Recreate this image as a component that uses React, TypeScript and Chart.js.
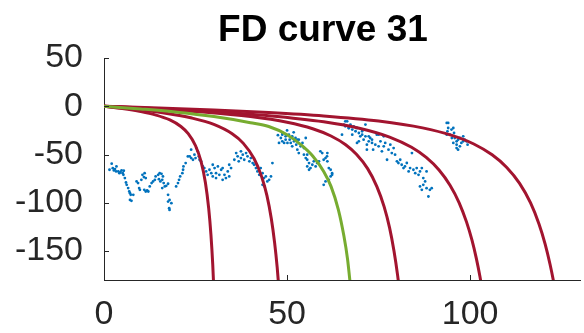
import React, { useEffect, useRef } from 'react';
import { Chart, registerables } from 'chart.js';

Chart.register(...registerables);

const titleText = 'FD curve 31';
const xTicks = [0, 50, 100];
const yTicks = [-150, -100, -50, 0, 50];
const xLimits = [0, 130];
const yLimits = [-180, 50];

// fitted curves (red)
const curve1X = [0, 5, 10, 14, 18, 21, 23, 25, 26.5, 27.7, 28.6, 29.2, 29.7, 30.2];
const curve1Y = [0, -2.4, -5.5, -8.9, -14.2, -21, -28.4, -40.9, -57.2, -79.2, -106, -132.8, -164, -208];
const curve2X = [0, 8, 16, 24, 30, 35, 38, 41, 43, 44.5, 45.7, 46.6, 47.3, 48];
const curve2Y = [0, -3, -6.7, -12.2, -18.8, -28.5, -38.2, -54.4, -72.4, -92.6, -116.5, -141.5, -167, -200];
const curve4X = [0, 13, 27, 40, 50, 57, 62, 66, 69, 72, 74.5, 76.5, 78, 79.2, 80.2, 81];
const curve4Y = [0, -2.6, -6, -10.7, -16.6, -23.3, -30.8, -39.9, -50, -64.6, -83, -104, -126, -150, -175.5, -201];
const curve5X = [0, 15, 30, 45, 60, 70, 78, 84, 88, 91.5, 94.5, 97, 99, 100.5, 101.7, 102.7, 103.6];
const curve5Y = [0, -2.6, -5.7, -9.8, -16.1, -23, -31.9, -42.5, -53, -66, -81.8, -100, -119.8, -138.8, -157.9, -177, -197.5];
const curve6X = [0, 15, 30, 45, 60, 75, 87, 95, 101, 106, 110, 113.5, 116.5, 118.8, 120.5, 121.8, 122.8, 123.6];
const curve6Y = [0, -1.8, -3.9, -6.5, -10, -15.3, -22.4, -30.2, -39.1, -50.3, -63.4, -79.9, -100.2, -121.9, -143, -163.4, -182, -200];
// highlighted curve (green)
const curveGreenX = [0, 10, 20, 30, 40, 45, 50, 54, 57, 60, 62, 64, 65.5, 66.5, 67.3, 68];
const curveGreenY = [0, -2.8, -6.1, -10.7, -17, -21, -29.5, -40.5, -51.5, -67.5, -83, -107, -134, -158, -186, -212];

// measured points (blue), four segments
const dotsSeg1: [number, number][] = [
  [1.5, -65.8], [2.1, -59.5], [2.4, -64.1], [2.7, -66.5], [3.0, -65.1], [3.4, -62.3], [3.3, -67.5], [3.9, -67.5],
  [4.2, -69.3], [4.5, -68.2], [4.8, -66.5], [5.1, -69.3], [5.4, -66.8], [5.3, -71], [5.7, -74.4], [6.0, -79],
  [6.2, -81.4], [6.6, -84.8], [6.9, -88.3], [7.1, -90], [7.3, -91.8], [7.1, -97], [7.5, -98], [8.0, -91.8],
  [8.9, -77.9], [9.3, -79.6], [9.6, -84.8], [9.8, -86.6], [10.2, -76.2], [10.5, -71], [10.9, -73.4], [11.1, -69.3],
  [11.4, -74.4], [11.0, -86.6], [11.4, -88.3], [11.8, -87.3], [12.1, -88.3], [12.5, -83.1], [13.0, -79.6], [13.4, -77.9],
  [13.9, -76.2], [14.1, -72.7], [14.8, -71], [15.2, -69.3], [15.7, -70], [15.0, -75.5], [15.4, -77.9], [15.9, -76.2],
  [16.1, -72.7], [16.3, -79.6], [16.6, -83.1], [15.9, -84.8], [17.0, -82.4], [17.5, -80.3], [17.5, -91.8], [17.9, -97],
  [17.5, -98.7], [18.4, -100.4], [17.9, -107.4], [17.8, -105.6], [19.7, -83.1], [20.2, -79.6], [20.5, -76.2], [20.8, -72.7],
  [21.4, -69.3], [21.6, -65.8], [21.7, -62.3], [22.3, -58.9], [22.9, -52], [23.4, -51.9], [23.8, -53.7], [23.8, -45],
  [24.3, -55.4], [24.7, -50.2], [25.0, -53.7], [25.2, -43.3], [25.6, -46.7], [25.9, -51.9], [26.1, -55.4], [26.5, -57.1],
  [27.0, -62.3], [27.4, -64], [27.9, -67.5], [28.3, -71], [28.8, -65.8], [29.3, -69.3], [29.7, -60.6], [30.2, -64],
  [30.6, -69.3], [29.7, -72.7], [30.6, -74.4], [31.1, -62.3], [31.5, -71], [32.0, -65.8], [32.4, -76.2], [32.4, -64],
  [32.9, -71], [33.3, -74.4], [33.8, -67.5], [34.2, -72.7], [34.2, -60.6], [34.7, -64], [35.6, -55.4], [36.1, -48.5],
  [36.5, -51.9], [36.8, -57.1], [37.4, -53.7], [37.4, -46.7], [37.9, -50.2], [38.3, -55.4], [38.8, -48.5], [39.2, -51.9],
  [39.7, -57.1], [40.1, -53.7], [40.6, -58.9], [41.0, -60.6], [41.5, -64], [41.9, -67.5], [42.4, -71], [42.8, -64],
  [43.3, -69.3], [43.7, -74.4], [44.2, -72.7], [43.3, -81.4], [43.8, -83.1], [44.6, -77.9], [45.1, -76.2], [45.6, -72.7],
  [46.0, -58.9],
];
const dotsSeg2: [number, number][] = [
  [47.5, -30], [47.8, -38], [48.3, -32.9], [48.7, -29.4], [48.7, -36.3], [48.7, -27.7], [49.2, -38], [49.6, -31.1],
  [49.6, -34.6], [50.0, -25], [50.1, -38], [50.5, -29.4], [50.7, -34.6], [51.0, -38], [51.4, -31.1], [51.4, -41.5],
  [51.8, -27], [51.9, -36.3], [52.3, -32.9], [52.5, -39.8], [52.8, -45], [52.8, -34.6], [53.2, -34.6], [53.2, -48.5],
  [53.7, -41.5], [54.2, -38], [54.6, -43.3], [55.1, -32.9], [54.6, -50.2], [55.1, -53.7], [55.5, -55.4], [55.5, -50.2],
  [55.5, -62.3], [56.0, -58.9], [56.0, -65.8], [56.4, -64], [56.9, -60.6], [57.3, -57.1], [57.8, -62.3], [58.2, -58.9],
  [58.7, -57.1], [59.1, -46.7], [59.6, -48.5], [60.0, -55.4], [60.5, -53.7], [60.9, -51.9], [61.0, -48.5], [61.0, -57.1],
  [61.4, -64], [61.9, -65.8], [62.3, -69.3], [62.3, -71], [61.9, -72.7], [61.4, -76.2], [60.5, -77.9], [60.0, -81.4],
];
const dotsSeg3: [number, number][] = [
  [65.0, -29.4], [65.5, -19], [65.9, -20.7], [65.9, -15.6], [66.4, -15.6], [66.8, -22.5], [66.9, -22.5], [67.3, -19],
  [67.8, -24.2], [67.8, -29.4], [68.2, -20.8], [68.7, -25.9], [69.1, -22.5], [69.1, -38], [69.6, -27.7], [69.6, -36.3],
  [70.0, -31.1], [70.5, -25.9], [70.5, -29.4], [70.9, -34.6], [71.4, -19], [71.4, -31.1], [71.8, -39.8], [71.8, -45],
  [72.3, -36.3], [72.3, -31.1], [72.7, -32.9], [73.2, -38], [73.2, -34.6], [73.5, -45], [74.1, -39.8], [74.5, -29.4],
  [75.0, -41.5], [75.0, -29.4], [75.5, -36.3], [75.9, -46.7], [76.4, -31.1], [76.4, -41.5], [76.8, -38], [77.3, -55.4],
  [77.7, -45], [78.2, -39.8], [78.6, -48.5], [79.1, -43.3], [79.5, -50.2], [80.0, -57.1], [80.4, -58.8], [80.9, -55.4],
  [81.3, -60.6], [81.8, -64], [82.2, -62.3], [82.7, -58.8], [83.2, -67.5], [83.6, -64], [84.1, -48.5], [84.5, -65.8],
  [85.0, -69.3], [85.4, -64], [85.9, -71], [86.3, -67.5], [86.8, -64], [87.2, -74.4], [87.7, -77.9], [88.1, -67.5],
  [86.3, -83.1], [86.8, -86.6], [87.2, -81.4], [88.1, -84.9], [88.6, -93.5], [89.0, -86.6], [89.5, -84.9],
];
const dotsSeg4: [number, number][] = [
  [93.6, -17.3], [94.0, -17.3], [93.8, -26], [94.0, -22.5], [93.6, -29.4], [94.5, -29.4], [94.9, -24.2], [95.4, -22.5],
  [95.6, -27.7], [95.0, -32.9], [95.8, -32.9], [96.3, -36.3], [96.7, -34.6], [96.3, -39.8], [96.3, -43.3], [97.2, -41.5],
  [97.2, -32.9], [97.6, -38], [98.1, -36.3], [98.1, -31.1], [98.5, -34.6], [99.0, -36.3], [99.3, -39.8], [96.7, -45],
  [95.4, -38],
];

const RED = '#A2142F';
const GREEN = '#77AC30';
const BLUE = '#0072BD';
const AXIS = '#262626';
const FONT = '"Liberation Sans", Arial, Helvetica, sans-serif';

const toPts = (xs: number[], ys: number[]) => xs.map((x, i) => ({ x, y: ys[i] }));
const pairPts = (arr: [number, number][]) => arr.map(([x, y]) => ({ x, y }));

const curveDataset = (xs: number[], ys: number[], color: string, order: number) => ({
  type: 'scatter' as const,
  data: toPts(xs, ys),
  showLine: true,
  borderColor: color,
  backgroundColor: color,
  borderWidth: 3,
  pointRadius: 0,
  cubicInterpolationMode: 'monotone' as const,
  order,
});

const titlePlugin = {
  id: 'fdTitle',
  afterDraw(chart: any) {
    const ctx = chart.ctx;
    ctx.save();
    ctx.font = `bold 37px ${FONT}`;
    ctx.fillStyle = '#000';
    ctx.textAlign = 'center';
    ctx.textBaseline = 'alphabetic';
    ctx.fillText(titleText, 323, 41);
    ctx.restore();
  },
};

const inwardTicks = {
  id: 'inwardTicks',
  afterDraw(chart: any) {
    const { ctx, chartArea } = chart;
    const xs = chart.scales.x;
    const ys = chart.scales.y;
    ctx.save();
    ctx.strokeStyle = AXIS;
    ctx.lineWidth = 1;
    ctx.beginPath();
    yTicks.forEach((v) => {
      const p = Math.round(ys.getPixelForValue(v)) + 0.5;
      ctx.moveTo(chartArea.left, p);
      ctx.lineTo(chartArea.left + 5, p);
    });
    xTicks.forEach((v) => {
      const p = Math.round(xs.getPixelForValue(v)) + 0.5;
      ctx.moveTo(p, chartArea.bottom);
      ctx.lineTo(p, chartArea.bottom - 5);
    });
    ctx.stroke();
    ctx.restore();
  },
};

export default function App() {
  const ref = useRef<HTMLCanvasElement | null>(null);
  useEffect(() => {
    if (!ref.current) return;
    const chart = new Chart(ref.current, {
      type: 'scatter',
      data: {
        datasets: [
          curveDataset(curveGreenX, curveGreenY, GREEN, 1),
          curveDataset(curve1X, curve1Y, RED, 2),
          curveDataset(curve2X, curve2Y, RED, 2),
          curveDataset(curve4X, curve4Y, RED, 2),
          curveDataset(curve5X, curve5Y, RED, 2),
          curveDataset(curve6X, curve6Y, RED, 2),
          {
            type: 'scatter',
            data: [...pairPts(dotsSeg1), ...pairPts(dotsSeg2), ...pairPts(dotsSeg3), ...pairPts(dotsSeg4)],
            pointRadius: 1.4,
            pointBorderWidth: 0,
            backgroundColor: BLUE,
            borderColor: BLUE,
            order: 3,
          },
        ] as any,
      },
      options: {
        responsive: false,
        animation: false,
        layout: { padding: { top: 58, right: 1, left: 0, bottom: 0 } },
        plugins: { legend: { display: false }, tooltip: { enabled: false }, title: { display: false } },
        scales: {
          x: {
            type: 'linear',
            min: xLimits[0],
            max: xLimits[1],
            afterBuildTicks: (s: any) => { s.ticks = xTicks.map((v) => ({ value: v })); },
            afterFit: (s: any) => { s.height = 53; },
            grid: { display: false, drawTicks: false },
            border: { display: true, color: AXIS, width: 1 },
            ticks: { color: AXIS, font: { size: 34, family: FONT }, padding: 14, maxRotation: 0, autoSkip: false },
          },
          y: {
            type: 'linear',
            min: yLimits[0],
            max: yLimits[1],
            afterBuildTicks: (s: any) => { s.ticks = yTicks.map((v) => ({ value: v })); },
            afterFit: (s: any) => { s.width = 104; },
            grid: { display: false, drawTicks: false },
            border: { display: true, color: AXIS, width: 1 },
            ticks: { color: AXIS, font: { size: 34, family: FONT }, padding: 21, autoSkip: false },
          },
        },
      },
      plugins: [titlePlugin, inwardTicks],
    });
    return () => chart.destroy();
  }, []);
  return (
    <div style={{ position: 'absolute', left: 0, top: 0, width: 584, height: 333, background: '#fff' }}>
      <canvas ref={ref} width={584} height={333} style={{ width: 584, height: 333, display: 'block' }} />
    </div>
  );
}
